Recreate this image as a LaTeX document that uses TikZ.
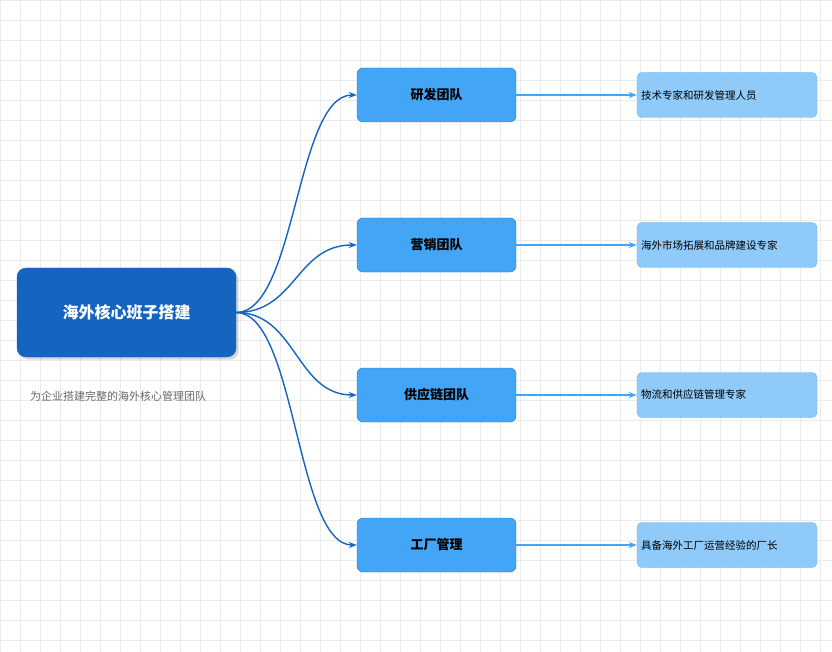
\documentclass[tikz,border=0pt]{standalone}
\usepackage{fontspec}
\setmainfont{Noto Sans CJK SC}
\usetikzlibrary{shadows,arrows.meta}
\definecolor{cdark}{HTML}{1565C0}
\definecolor{cmid}{HTML}{42A5F5}
\definecolor{cmidb}{HTML}{1976D2}
\definecolor{clight}{HTML}{90CAF9}
\definecolor{clightb}{HTML}{64B5F6}
\begin{document}
\begin{tikzpicture}[x=1pt,y=-1pt,
  root/.style={draw=cdark,fill=cdark,rounded corners=9pt,minimum width=219pt,minimum height=89pt,text=white,font=\bfseries\fontsize{16}{18}\selectfont,drop shadow={opacity=0.3}},
  mid/.style={draw=cmidb,fill=cmid,rounded corners=6pt,minimum width=159pt,minimum height=54pt,font=\bfseries\fontsize{13}{15}\selectfont},
  leaf/.style={draw=clightb,fill=clight,rounded corners=5pt,minimum width=180pt,minimum height=45pt,text width=172pt,align=left,inner sep=4pt,font=\fontsize{10.5}{12}\selectfont},
  c1/.style={draw=cdark,line width=1.4pt,-{Stealth[length=8pt]}},
  c2/.style={draw=cmid,line width=1.2pt,-{Stealth[length=8pt]}}]
\useasboundingbox (0,0) rectangle (832,652);
\fill[white] (0,0) rectangle (832,652);
\draw[black!8,line width=0.5pt,step=20pt] (0,0) grid (832,652);
\node[root] (r) at (126.5,312.5) {海外核心班子搭建};
\node[text=black!60,font=\fontsize{11}{13}\selectfont,anchor=west,inner sep=0pt] (s) at (30,396) {为企业搭建完整的海外核心管理团队};
\node[mid] (ma) at (436.5,95) {研发团队};
\node[mid] (mb) at (436.5,245) {营销团队};
\node[mid] (mc) at (436.5,395) {供应链团队};
\node[mid] (md) at (436.5,545) {工厂管理};
\node[leaf] (la) at (727,95) {技术专家和研发管理人员};
\node[leaf] (lb) at (727,245) {海外市场拓展和品牌建设专家};
\node[leaf] (lc) at (727,395) {物流和供应链管理专家};
\node[leaf] (ld) at (727,545) {具备海外工厂运营经验的厂长};
\foreach \m in {a,b,c,d}{
  \draw[c1] (r.east) .. controls (296,312.5) and (296,312.5|-m\m.west) .. (m\m.west);
  \draw[c2] (m\m.east) -- (l\m.west);
}
\end{tikzpicture}
\end{document}
